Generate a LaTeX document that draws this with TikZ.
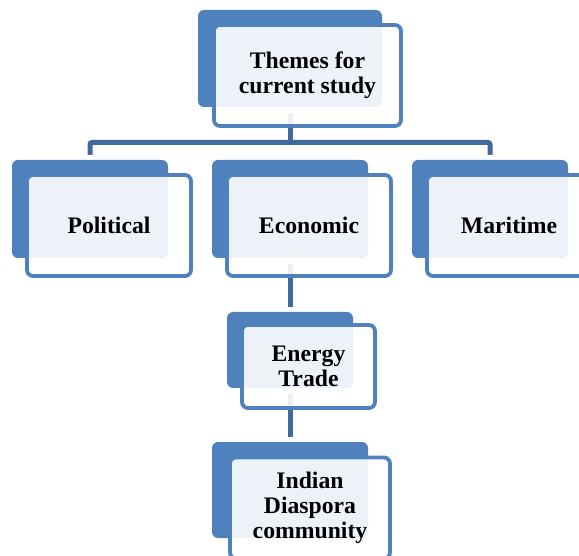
\documentclass[tikz,border=0pt]{standalone}
\usepackage{fontspec}
\setmainfont{Liberation Serif}
\usetikzlibrary{positioning,calc}
\definecolor{backblue}{HTML}{4F81BD}
\definecolor{linkblue}{HTML}{41699D}
\tikzset{
  back/.style  = {rounded corners=6pt, fill=backblue, inner sep=0pt},
  front/.style = {rounded corners=6pt, draw=backblue, line width=3.8pt, fill=white,
                  fill opacity=0.9, text opacity=1, align=center, inner sep=0pt,
                  font=\fontsize{23.7}{25}\selectfont\bfseries},
  link/.style  = {draw=linkblue, line width=5pt},
}
\begin{document}
\begin{tikzpicture}[x=1pt, y=-1pt]
  \useasboundingbox (0,0) rectangle (579,556);
  % back plates
  \node[back, minimum width=184, minimum height=97] (themesB) at (290,58.5) {};
  \node[back, minimum width=156, minimum height=98] (polB) at (90,209) {};
  \node[back, minimum width=156, minimum height=98] (ecoB) at (290,209) {};
  \node[back, minimum width=156, minimum height=98] (marB) at (490,209) {};
  \node[back, minimum width=126, minimum height=76] (enB) at (290,350) {};
  \node[back, minimum width=156, minimum height=96] (diaB) at (290,490) {};
  % connectors
  \coordinate (bus) at (290,142.5);
  \draw[link, shorten <=6pt] (themesB.south) -- (bus);
  \draw[link, rounded corners=2pt, shorten <=5pt, shorten >=5pt] (polB.north) |- (bus) -| (marB.north);
  \draw[link, shorten <=6pt, shorten >=5pt] (ecoB.south) -- (enB.north);
  \draw[link, shorten <=6pt, shorten >=5pt] (enB.south) -- (diaB.north);
  % front cards
  \node[front, minimum width=187, minimum height=101] (themesF) at (307.5,75.5) {Themes for\\current study};
  \node[front, minimum width=164, minimum height=101] (polF) at (109,225.5) {Political};
  \node[front, minimum width=164, minimum height=101] (ecoF) at (309,225.5) {Economic};
  \node[front, minimum width=164, minimum height=101] (marF) at (509,225.5) {Maritime};
  \node[front, minimum width=133, minimum height=83] (enF) at (308.5,366.5) {Energy\\Trade};
  \node[front, minimum width=160, minimum height=101] (diaF) at (310,508) {Indian\\Diaspora\\community};
\end{tikzpicture}
\end{document}
